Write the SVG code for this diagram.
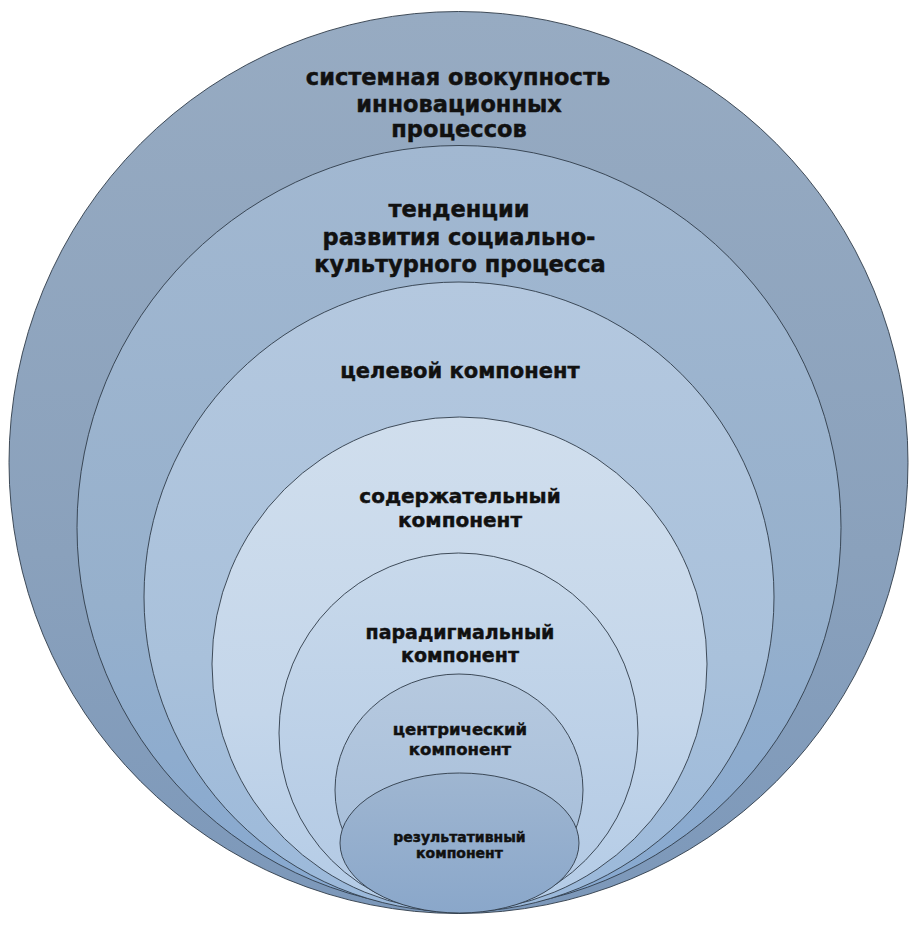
<svg xmlns="http://www.w3.org/2000/svg" width="915" height="928" viewBox="0 0 915 928">
<defs>
<linearGradient id="g1" x1="0" y1="0" x2="0" y2="1"><stop offset="0" stop-color="#97ABC2"/><stop offset="0.6" stop-color="#8AA1BC"/><stop offset="1" stop-color="#7C98BA"/></linearGradient>
<linearGradient id="g2" x1="0" y1="0" x2="0" y2="1"><stop offset="0" stop-color="#A2B8D1"/><stop offset="0.6" stop-color="#96B0CC"/><stop offset="1" stop-color="#86A8D0"/></linearGradient>
<linearGradient id="g3" x1="0" y1="0" x2="0" y2="1"><stop offset="0" stop-color="#B4C8DF"/><stop offset="0.6" stop-color="#A9C1DB"/><stop offset="1" stop-color="#9AB8DA"/></linearGradient>
<linearGradient id="g4" x1="0" y1="0" x2="0" y2="1"><stop offset="0" stop-color="#D0DEED"/><stop offset="0.6" stop-color="#C4D6EA"/><stop offset="1" stop-color="#B3CBE6"/></linearGradient>
<linearGradient id="g5" x1="0" y1="0" x2="0" y2="1"><stop offset="0" stop-color="#C8D9EB"/><stop offset="1" stop-color="#B2C9E4"/></linearGradient>
<linearGradient id="g6" x1="0" y1="0" x2="0" y2="1"><stop offset="0" stop-color="#B6C9DF"/><stop offset="1" stop-color="#A2BBD8"/></linearGradient>
<linearGradient id="g7" x1="0" y1="0" x2="0" y2="1"><stop offset="0" stop-color="#9FB6D1"/><stop offset="1" stop-color="#8AA7CA"/></linearGradient>
</defs>
<style>
.ring{stroke:#2F3B48;stroke-width:0.9}
text{font-family:"DejaVu Sans","Verdana",sans-serif;font-weight:bold;fill:#111111;stroke:#111111;stroke-width:0.45;text-anchor:middle}
</style>
<rect width="915" height="928" fill="#FFFFFF"/>
<g id="node1"><ellipse class="ring" cx="458.5" cy="462.5" rx="449.5" ry="451" fill="url(#g1)"/>
<text font-size="22.5"><tspan x="458" y="85">системная овокупность</tspan><tspan x="459" y="111.5">инновационных</tspan><tspan x="459" y="137">процессов</tspan></text></g>
<g id="node2"><ellipse class="ring" cx="459" cy="527.5" rx="382" ry="382" fill="url(#g2)"/>
<text font-size="22.5"><tspan x="459" y="217">тенденции</tspan><tspan x="459" y="245">развития социально-</tspan><tspan x="460" y="272">культурного процесса</tspan></text></g>
<g id="node3"><ellipse class="ring" cx="459" cy="597" rx="315" ry="315" fill="url(#g3)"/>
<text font-size="21" x="460" y="378">целевой компонент</text></g>
<g id="node4"><ellipse class="ring" cx="459.5" cy="664" rx="247.5" ry="247" fill="url(#g4)"/>
<text font-size="20"><tspan x="460" y="503">содержательный</tspan><tspan x="460" y="527">компонент</tspan></text></g>
<g id="node5"><ellipse class="ring" cx="458.5" cy="733" rx="179.5" ry="180" fill="url(#g5)"/>
<text font-size="19"><tspan x="460" y="639">парадигмальный</tspan><tspan x="460" y="662">компонент</tspan></text></g>
<g id="node6"><ellipse class="ring" cx="459" cy="790" rx="124" ry="116" fill="url(#g6)"/>
<text font-size="16.5"><tspan x="460" y="735">центрический</tspan><tspan x="460" y="755">компонент</tspan></text></g>
<g id="node7"><ellipse class="ring" cx="459.5" cy="843" rx="119.5" ry="70" fill="url(#g7)"/>
<text font-size="14"><tspan x="459.5" y="842">результативный</tspan><tspan x="459.5" y="858">компонент</tspan></text></g>
<g id="connectors"/>
</svg>
